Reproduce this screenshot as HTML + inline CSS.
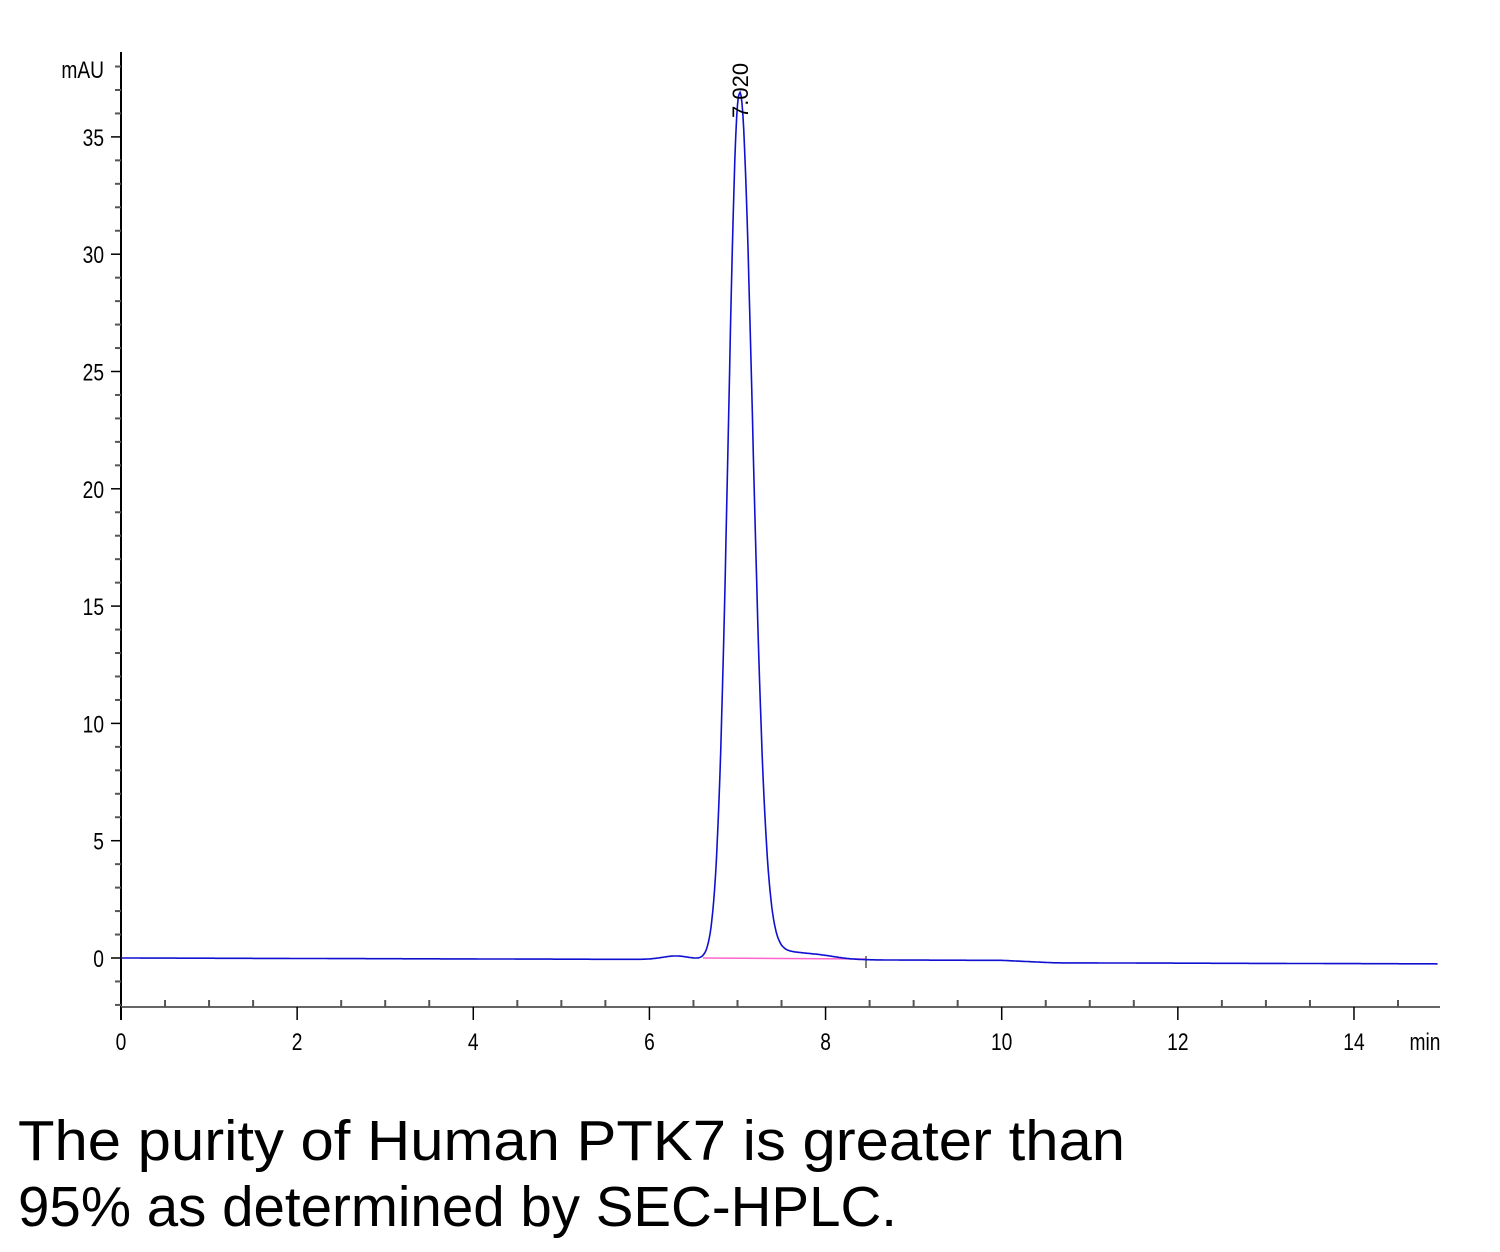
<!DOCTYPE html>
<html><head><meta charset="utf-8"><style>
html,body{margin:0;padding:0;background:#fff;}
svg{display:block}
text{font-family:"Liberation Sans",sans-serif;}
</style></head><body>
<svg id="s" width="1500" height="1252" viewBox="0 0 1500 1252" xmlns="http://www.w3.org/2000/svg">
<g id="ax" stroke="#000" stroke-width="2" fill="none">
<line x1="121" y1="52" x2="121" y2="1020"/>
<line x1="121" y1="1007" x2="1440" y2="1007" stroke="#666"/>
</g>
<g id="ticks"></g>
<g font-size="24" fill="#000" id="lbl"></g>
<text x="104" y="78" font-size="24" text-anchor="end" transform="translate(104,0) scale(0.8,1) translate(-104,0)">mAU</text>
<text x="1425" y="1050" font-size="24" text-anchor="middle" transform="translate(1425,0) scale(0.8,1) translate(-1425,0)">min</text>
<line x1="703" y1="958" x2="865" y2="959" stroke="#ff66cc" stroke-width="1.5"/>
<line x1="866" y1="956" x2="866" y2="968" stroke="#000" stroke-width="1"/>
<path id="trace" fill="none" stroke="#1010d0" stroke-width="1.6"/>
<text font-size="22" fill="#000" transform="translate(748,118) rotate(-90)">7.020</text>
<text x="18" y="1160" font-size="57" fill="#000" textLength="1107" lengthAdjust="spacingAndGlyphs">The purity of Human PTK7 is greater than</text>
<text x="18" y="1226" font-size="57" fill="#000" textLength="879" lengthAdjust="spacingAndGlyphs">95% as determined by SEC-HPLC.</text>
</svg>
<script>
var NS="http://www.w3.org/2000/svg";
function X(t){return 121+t*88.07;}
function Y(v){return 958-v*23.46;}
var tk=document.getElementById('ticks'),lb=document.getElementById('lbl');
function ln(x1,y1,x2,y2,c,w){var l=document.createElementNS(NS,'line');l.setAttribute('x1',x1);l.setAttribute('y1',y1);l.setAttribute('x2',x2);l.setAttribute('y2',y2);l.setAttribute('stroke',c||'#000');l.setAttribute('stroke-width',w||1.5);tk.appendChild(l);}
function tx(x,y,s,a){var t=document.createElementNS(NS,'text');t.setAttribute('x',x);t.setAttribute('y',y);t.setAttribute('text-anchor',a);t.setAttribute('transform','translate('+x+',0) scale(0.8,1) translate('+(-x)+',0)');t.textContent=s;lb.appendChild(t);}
for(var v=-2;v<=38;v++){var y=Y(v);if(v%5==0){ln(111,y,121,y,'#000',1.5);tx(104,y+9,''+v,'end');}else ln(115,y,121,y,'#555',2);}
for(var t=0;t<=15;t+=0.5){var x=X(t);if(x>1440)break;if(t%2==0){ln(x,1007,x,1020,'#000',1.5);tx(x,1050,''+t,'middle');}else ln(x,1000,x,1007,'#555',2);}
var d='';
for(var t=0;t<=14.95;t+=0.01){
 var v=-0.1*t/10; if(t>10) v-=0.1*Math.min(1,(t-10)/0.6);
 v+=0.15*Math.exp(-Math.pow((t-6.3)/0.15,2)/2);
 var s=t<7.02?0.125:0.15;
 v+=36.9*Math.exp(-Math.pow((t-7.02)/s,2)/2);
 if(t>7.02){v+=1.6*Math.exp(-(t-7.02)/0.22)*(1-Math.exp(-(t-7.02)/0.1));}
 v+=0.25/(1+Math.exp(-(t-7.3)/0.08))*(1/(1+Math.exp((t-8.1)/0.12)));
 d+=(d?'L':'M')+X(t).toFixed(1)+' '+Y(v).toFixed(1);
}
document.getElementById('trace').setAttribute('d',d);
</script>
</body></html>
